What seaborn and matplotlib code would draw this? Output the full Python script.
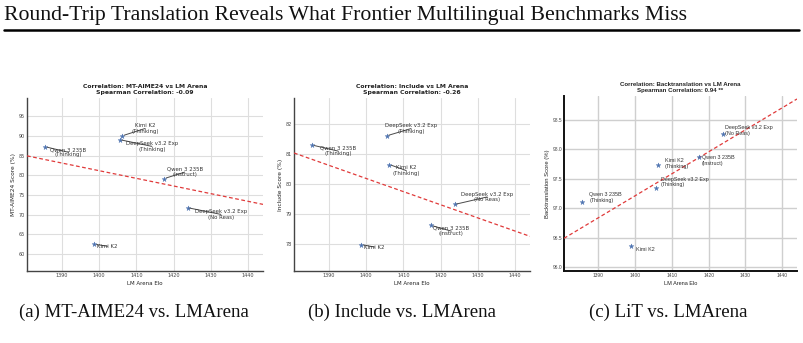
import numpy as np
import pandas as pd
import matplotlib
matplotlib.use("Agg")
import matplotlib.pyplot as plt
from matplotlib.lines import Line2D
import seaborn as sns

# ---------------- data ----------------
models = ["Qwen 3 235B\n(Thinking)", "Kimi K2", "DeepSeek v3.2 Exp\n(Thinking)",
          "Kimi K2\n(Thinking)", "Qwen 3 235B\n(Instruct)", "DeepSeek v3.2 Exp\n(No Reas)"]
elo = [1385.6, 1398.8, 1405.6, 1406.3, 1417.5, 1423.8]
mt_aime = [87.3, 62.5, 89.1, 90.1, 79.2, 71.8]
include = [81.29, 77.97, 81.60, 80.64, 78.61, 79.31]
lit = [97.10, 96.36, 97.35, 97.73, 97.87, 98.26]
spearman = ["-0.09", "-0.26", "0.94 **"]
titles = ["MT-AIME24", "Include", "Backtranslation"]
ylabels = ["MT-AIME24 Score (%)", "Include Score (%)", "Backtranslation Score (%)"]
captions = ["(a) MT-AIME24 vs. LMArena", "(b) Include vs. LMArena", "(c) LiT vs. LMArena"]
header = "Round-Trip Translation Reveals What Frontier Multilingual Benchmarks Miss"

df = pd.DataFrame({"model": models, "elo": elo, "mt": mt_aime, "inc": include, "lit": lit})

# label placement (layout only)
lab1 = [(1391.8, 85.9), (1402.3, 62.0), (1414.2, 87.4), (1412.4, 91.95), (1423.0, 80.85), (1432.7, 70.1)]
lab2 = [(1392.5, 81.09), (1402.3, 77.89), (1412.1, 81.84), (1410.8, 80.44), (1422.9, 78.42), (1432.5, 79.56)]
lab3 = [(1387.6, 97.18), (1400.2, 96.30), (1407.0, 97.45), (1408.1, 97.76), (1418.2, 97.81), (1424.5, 98.32)]

sns.set_theme(style="whitegrid")
plt.rcParams["font.family"] = ["DejaVu Sans"]

W, H = 804, 343
fig = plt.figure(figsize=(W / 100, H / 100), dpi=100)

def px_axes(l, r, t, b):
    return fig.add_axes([l / W, 1 - b / H, (r - l) / W, (b - t) / H])

ax1 = px_axes(27, 263, 98, 271)
ax2 = px_axes(294, 530, 98, 271)
ax3 = px_axes(564, 797, 96, 271)

xlim = (1380.7, 1444.0)
ylims = [(55.7, 99.7), (77.09, 82.86), (95.93, 98.91)]
yticks = [np.arange(60, 96, 5), np.arange(78, 83, 1), np.arange(96.0, 98.51, 0.5)]
cols = ["mt", "inc", "lit"]
labs = [lab1, lab2, lab3]

for i, ax in enumerate([ax1, ax2, ax3]):
    arial = (i == 2)
    fam = "Liberation Sans" if arial else "DejaVu Sans"
    ax.set_xlim(*xlim)
    ax.set_ylim(*ylims[i])
    sns.scatterplot(data=df, x="elo", y=cols[i], ax=ax, marker="*", s=13,
                    color="#4c72b0", edgecolor="#4c72b0", linewidth=0.3, zorder=4)
    sns.regplot(data=df, x="elo", y=cols[i], ax=ax, scatter=False, ci=None, truncate=False,
                line_kws=dict(color="#e03a3a", ls=(0, (3, 2)), lw=0.9, zorder=3))
    ax.set_xlim(*xlim)
    ax.set_ylim(*ylims[i])
    ax.set_xticks(np.arange(1390, 1441, 10))
    ax.set_yticks(yticks[i])
    if arial:
        ax.set_yticklabels([f"{v:.1f}" for v in yticks[i]])
    ax.tick_params(axis="both", labelsize=3.5, colors="#444444", pad=1.5, length=0)
    for lab in ax.get_xticklabels() + ax.get_yticklabels():
        lab.set_family(fam)
    ax.set_xlabel("LM Arena Elo", fontsize=4, labelpad=2, family=fam, color="#222222")
    ax.set_ylabel(ylabels[i], fontsize=4.2, labelpad=2, family=fam, color="#222222")
    ax.set_title(f"Correlation: {titles[i]} vs LM Arena\nSpearman Correlation: {spearman[i]}",
                 fontsize=4.4, fontweight="bold", pad=3, family=fam, color="#222222",
                 linespacing=1.1)
    for s in ["top", "right"]:
        ax.spines[s].set_visible(False)
    if arial:
        ax.grid(True, color="#cfcfcf", lw=1.0)
        for s in ["left", "bottom"]:
            ax.spines[s].set_color("#111111")
            ax.spines[s].set_linewidth(1.4)
    else:
        ax.grid(True, color="#dedede", lw=0.8)
        for s in ["left", "bottom"]:
            ax.spines[s].set_color("#444444")
            ax.spines[s].set_linewidth(1.0)
    for j, m in enumerate(models):
        tx, ty = labs[i][j]
        px, py = df["elo"][j], df[cols[i]][j]
        if arial:
            ax.text(tx, ty, m, fontsize=3.9, family=fam, ha="left", va="center",
                    color="#333333", linespacing=1.1, zorder=5)
        else:
            ax.annotate(m, xy=(px, py), xytext=(tx, ty), fontsize=3.9, ha="center",
                        va="center", color="#333333", linespacing=1.1, zorder=5,
                        arrowprops=dict(arrowstyle="-", color="#4a4a4a", lw=0.7,
                                        patchA=None, shrinkA=0, shrinkB=1.5))

renderer = fig.canvas.get_renderer()

def fit_width(t, target):
    w = t.get_window_extent(renderer).width
    t.set_fontsize(t.get_fontsize() * target / w)

ht = fig.text(4 / W, 1 - 20 / H, header, family="Liberation Serif", fontsize=14,
              ha="left", va="baseline", color="#111111")
fit_width(ht, 686)

fig.add_artist(Line2D([4 / W, 799 / W], [1 - 30 / H, 1 - 30 / H], color="black", lw=1.8))

cx = [134, 402.5, 668]
ct = []
for k, c in enumerate(captions):
    t = fig.text(cx[k] / W, 1 - 317 / H, c, family="Liberation Serif", fontsize=14,
                 ha="center", va="baseline", color="#111111")
    ct.append(t)
fit_width(ct[0], 232)
for t in ct[1:]:
    t.set_fontsize(ct[0].get_fontsize())

fig.savefig("out.png", dpi=100)
